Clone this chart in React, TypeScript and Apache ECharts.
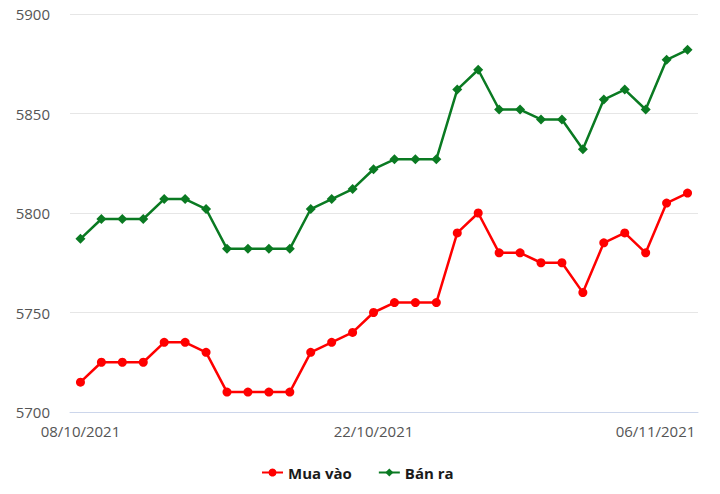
import React, { useEffect, useRef } from "react";
import * as echarts from "echarts";

const dates = [
  "08/10/2021", "09/10/2021", "10/10/2021", "11/10/2021", "12/10/2021",
  "13/10/2021", "14/10/2021", "15/10/2021", "16/10/2021", "17/10/2021",
  "18/10/2021", "19/10/2021", "20/10/2021", "21/10/2021", "22/10/2021",
  "23/10/2021", "24/10/2021", "25/10/2021", "26/10/2021", "27/10/2021",
  "28/10/2021", "29/10/2021", "30/10/2021", "31/10/2021", "01/11/2021",
  "02/11/2021", "03/11/2021", "04/11/2021", "05/11/2021", "06/11/2021",
];

const muaVao = [
  5715, 5725, 5725, 5725, 5735, 5735, 5730, 5710, 5710, 5710,
  5710, 5730, 5735, 5740, 5750, 5755, 5755, 5755, 5790, 5800,
  5780, 5780, 5775, 5775, 5760, 5785, 5790, 5780, 5805, 5810,
];

const banRa = [
  5787, 5797, 5797, 5797, 5807, 5807, 5802, 5782, 5782, 5782,
  5782, 5802, 5807, 5812, 5822, 5827, 5827, 5827, 5862, 5872,
  5852, 5852, 5847, 5847, 5832, 5857, 5862, 5852, 5877, 5882,
];

const shownLabels = [0, 14, 29];
const seriesNames = ["Mua vào", "Bán ra"];

export default function App() {
  const ref = useRef<HTMLDivElement>(null);

  useEffect(() => {
    if (!ref.current) return;
    const chart = echarts.init(ref.current, null, { renderer: "svg" });
    const font = "'Open Sans', sans-serif";
    chart.setOption({
      animation: false,
      backgroundColor: "#ffffff",
      grid: { left: 70, right: 22, top: 14, bottom: 82, containLabel: false },
      legend: {
        left: 256,
        top: 460,
        itemWidth: 21,
        itemHeight: 10,
        itemGap: 26,
        data: seriesNames,
        textStyle: { fontFamily: font, fontSize: 15, fontWeight: "bold", color: "#1a1a1a" },
      },
      xAxis: {
        type: "category",
        data: dates,
        boundaryGap: true,
        axisLine: { lineStyle: { color: "#ccd6eb", width: 1 } },
        axisTick: { show: false },
        axisLabel: {
          interval: (i: number) => shownLabels.indexOf(i) >= 0,
          margin: 11,
          fontFamily: font,
          fontSize: 15,
          color: "#555",
          formatter: (v: string, i: number) => (i === dates.length - 1 ? `{r|${v}}` : v),
          rich: {
            r: { fontFamily: font, fontSize: 15, color: "#555", padding: [0, 64, 0, 0] },
          },
        },
        splitLine: { show: false },
      },
      yAxis: {
        type: "value",
        min: 5700,
        max: 5900,
        interval: 50,
        axisLine: { show: false },
        axisTick: { show: false },
        axisLabel: {
          margin: 20,
          fontFamily: font,
          fontSize: 15,
          color: "#555",
          formatter: (v: number) => String(v),
        },
        splitLine: { lineStyle: { color: "#e6e6e6", width: 1 } },
      },
      series: [
        {
          name: seriesNames[0],
          type: "line",
          data: muaVao,
          symbol: "circle",
          symbolSize: 9,
          itemStyle: { color: "#ff0000" },
          lineStyle: { color: "#ff0000", width: 2.5 },
        },
        {
          name: seriesNames[1],
          type: "line",
          data: banRa,
          symbol: "diamond",
          symbolSize: 10,
          itemStyle: { color: "#0a7a22" },
          lineStyle: { color: "#0a7a22", width: 2.5 },
        },
      ],
    });
    return () => chart.dispose();
  }, []);

  return <div ref={ref} style={{ width: 720, height: 494, margin: -8 }} />;
}
